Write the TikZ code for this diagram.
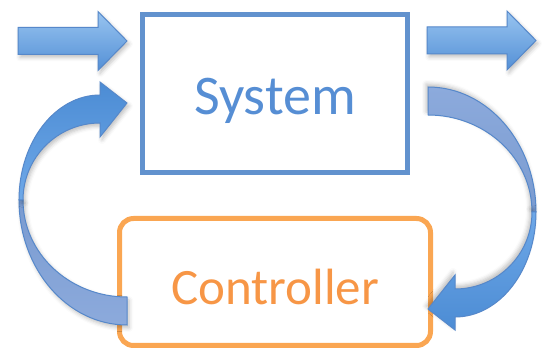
\documentclass[tikz,border=0pt]{standalone}
\usepackage{fontspec}
\setmainfont{Carlito}
\usetikzlibrary{shadows.blur}

\definecolor{sysblue}{RGB}{98,146,206}
\definecolor{systext}{RGB}{86,142,212}
\definecolor{ctrlorange}{RGB}{250,166,82}
\definecolor{ctrltext}{RGB}{247,150,70}
\definecolor{arrowedge}{RGB}{86,136,202}
\definecolor{arrowlight}{RGB}{152,196,240}
\definecolor{arrowdark}{RGB}{84,144,214}
\definecolor{frontblue}{RGB}{76,140,212}
\definecolor{frontlight}{RGB}{110,168,232}
\definecolor{backblue}{RGB}{122,155,208}
\definecolor{backlight}{RGB}{140,170,220}

% one curved feedback arrow: tail at the bottom, head at the top
\newcommand{\loopshape}[3]{%
  \path[curvy,#3,#2] (127,325) .. controls (67.4,325) and (19,269) .. (19,200)
    -- (23,200) .. controls (23,253.5) and (69.6,297) .. (127,297) -- cycle;
  \path[curvy,#3,#1] (19,200) .. controls (19,142) and (55.3,95) .. (100,95)
    -- (100,82) -- (127,103) -- (100,137) -- (100,123)
    .. controls (57.5,123) and (23,157.5) .. (23,200) -- cycle;
}

\tikzset{
  sysbox/.style={draw=sysblue, line width=2.5pt, minimum width=132.25pt,
    minimum height=79pt, text=systext, font=\fontsize{28pt}{32pt}\selectfont,
    text height=21.5pt, text depth=0pt},
  ctrlbox/.style={draw=ctrlorange, line width=2.5pt, rounded corners=7pt,
    minimum width=155.5pt, minimum height=63.5pt, text=ctrltext,
    font=\fontsize{25.5pt}{30pt}\selectfont, text height=23pt, text depth=0pt},
  flat/.style={draw=arrowedge, line width=0.5pt, top color=arrowlight,
    bottom color=arrowdark, blur shadow={shadow xshift=1pt, shadow yshift=-1.5pt,
    shadow opacity=25, shadow blur radius=2pt}},
  curvy/.style={draw=arrowedge, line width=0.5pt},
  downshadow/.style={blur shadow={shadow xshift=1pt, shadow yshift=-1.5pt,
    shadow opacity=25, shadow blur radius=2pt}},
  upshadow/.style={blur shadow={shadow xshift=-1pt, shadow yshift=1.5pt,
    shadow opacity=25, shadow blur radius=2pt}},
}

\newcommand{\blockarrow}[1]{%
  \path[flat, shift={#1}] (0,-13.5) -- (80,-13.5) -- (80,-29.5) -- (109,0)
    -- (80,29.5) -- (80,13.5) -- (0,13.5) -- cycle;
}

\begin{document}
\begin{tikzpicture}[x=0.5pt, y=-0.5pt]
\useasboundingbox (0,0) rectangle (542,352);

\node[sysbox] (system) at (275,93.5) {System};
\node[ctrlbox] (controller) at (275,282) {Controller};

% input and output
\blockarrow{(18,41)}
\blockarrow{(427,40.5)}

% feedback loop
\loopshape{top color=frontblue, bottom color=frontlight}{top color=backblue, bottom color=backlight}{downshadow}
\begin{scope}[rotate around={180:(277.5,206)}]
\loopshape{top color=frontlight, bottom color=frontblue}{top color=backlight, bottom color=backblue}{upshadow}
\end{scope}
\end{tikzpicture}
\end{document}
